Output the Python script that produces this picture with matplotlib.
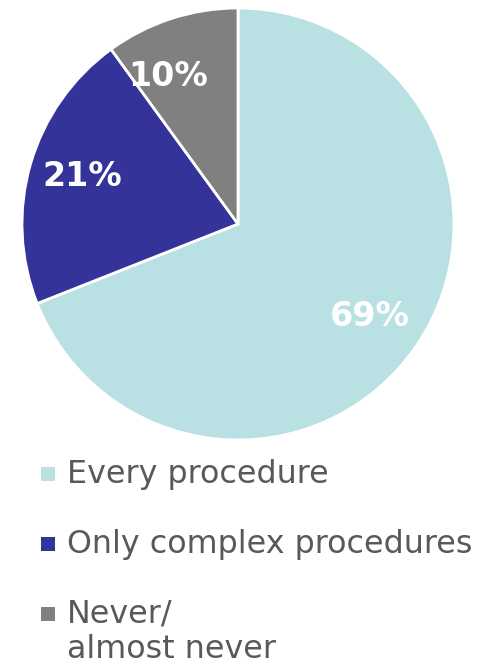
import matplotlib
matplotlib.use("Agg")
import matplotlib.pyplot as plt
from matplotlib.patches import Rectangle

categories = ["Every procedure", "Only complex procedures", "Never/\nalmost never"]
values = [69, 21, 10]
colors = ["#B9E0E3", "#333399", "#808080"]

W, H = 489, 666
fig = plt.figure(figsize=(W / 100, H / 100), dpi=100)
cx, cy, r = 238, 224, 216
ax = fig.add_axes([(cx - r) / W, (H - cy - r) / H, 2 * r / W, 2 * r / H])
wedges, texts, autotexts = ax.pie(
    values, colors=colors, startangle=90, counterclock=False,
    autopct=lambda p: f"{p:.0f}%", pctdistance=0.76,
    wedgeprops=dict(edgecolor="white", linewidth=2),
    textprops=dict(color="white", fontsize=24, fontweight="bold",
                   family="DejaVu Sans"))
ax.set_xlim(-1.0, 1.0)
ax.set_ylim(-1.0, 1.0)
ax.set_aspect("equal")
ax.axis("off")
# nudge labels
x, y = autotexts[2].get_position()
autotexts[2].set_position((x - 0.09, y - 0.04))
x, y = autotexts[1].get_position()
autotexts[1].set_position((x + 0.01, y + 0.01))
x, y = autotexts[0].get_position()
autotexts[0].set_position((x - 0.02, y))

# legend drawn manually
baselines = [483, 553, 623]
for lab, col, yb in zip(categories, colors, baselines):
    fig.patches.append(Rectangle((41 / W, (H - yb + 2) / H), 14 / W, 14 / H,
                                 transform=fig.transFigure, facecolor=col,
                                 edgecolor="none"))
    fig.text(67 / W, (H - yb) / H, lab.split("\n")[0], fontsize=22.9,
             color="#595959", va="baseline", ha="left", family="DejaVu Sans")
    if "\n" in lab:
        fig.text(67 / W, (H - yb - 35) / H, lab.split("\n")[1], fontsize=22.9,
                 color="#595959", va="baseline", ha="left", family="DejaVu Sans")

fig.savefig("out.png", dpi=100)
